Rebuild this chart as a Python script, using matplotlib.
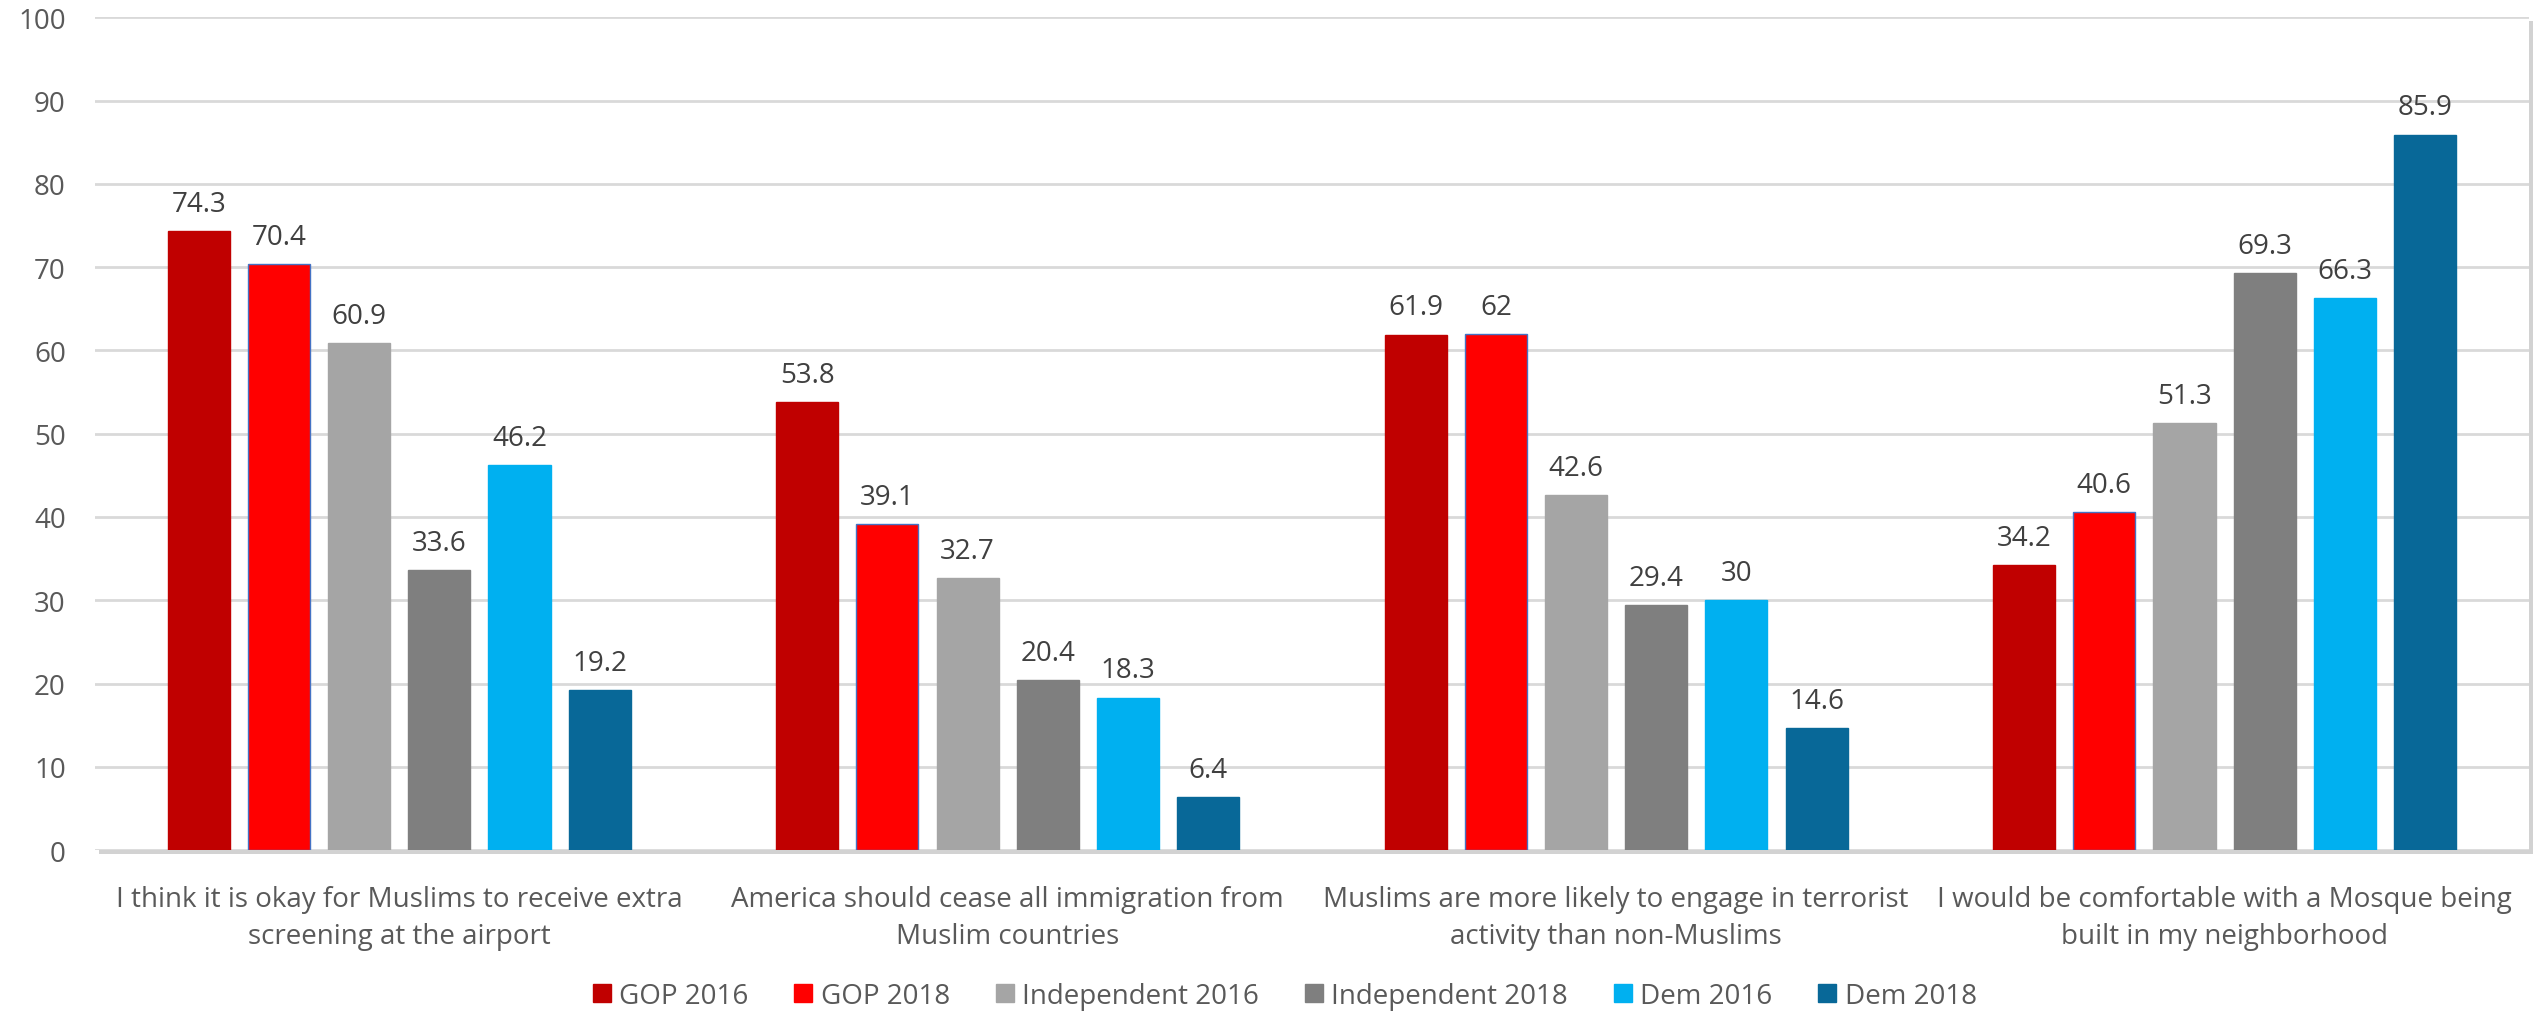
import numpy as np
import matplotlib
matplotlib.use("Agg")
import matplotlib.pyplot as plt
import matplotlib.patheffects as pe

plt.rcParams['font.family'] = ['Open Sans', 'DejaVu Sans']

categories = [
    "I think it is okay for Muslims to receive extra\nscreening at the airport",
    "America should cease all immigration from\nMuslim countries",
    "Muslims are more likely to engage in terrorist\nactivity than non-Muslims",
    "I would be comfortable with a Mosque being\nbuilt in my neighborhood",
]
series_names = ["GOP 2016", "GOP 2018", "Independent 2016", "Independent 2018", "Dem 2016", "Dem 2018"]
gop_2016 = [74.3, 53.8, 61.9, 34.2]
gop_2018 = [70.4, 39.1, 62, 40.6]
ind_2016 = [60.9, 32.7, 42.6, 51.3]
ind_2018 = [33.6, 20.4, 29.4, 69.3]
dem_2016 = [46.2, 18.3, 30, 66.3]
dem_2018 = [19.2, 6.4, 14.6, 85.9]
series_values = [gop_2016, gop_2018, ind_2016, ind_2018, dem_2016, dem_2018]
colors = ["#C00000", "#FF0000", "#A5A5A5", "#7F7F7F", "#00B0F0", "#086898"]

fig = plt.figure(figsize=(25.39, 10.12), dpi=100)
ax = fig.add_axes([0.0374, 0.159, 0.9586, 0.823])

x = np.arange(len(categories))
pitch = 0.1318
width = 0.102
for k, (name, vals, c) in enumerate(zip(series_names, series_values, colors)):
    pos = x + (k - 2.5) * pitch
    # the GOP 2018 bars carry a thin blue outline in the original
    edge = "#4472C4" if name == "GOP 2018" else c
    bars = ax.bar(pos, vals, width, color=c, edgecolor=edge, linewidth=1, label=name, zorder=3)
    for b, v in zip(bars, vals):
        ax.annotate(f"{v:g}", (b.get_x() + b.get_width() / 2, v),
                    xytext=(0, 9.5), textcoords="offset points",
                    ha="center", va="bottom", fontsize=20, color="#404040")

ax.set_xlim(-0.5, 3.5)
ax.set_ylim(0, 100)
ax.set_yticks(np.arange(0, 101, 10))
ax.yaxis.grid(True, color="#D9D9D9", linewidth=2, zorder=0)
ax.set_axisbelow(True)
ax.tick_params(axis="y", length=0, labelsize=20, labelcolor="#595959", pad=21)
ax.set_xticks(x)
ax.set_xticklabels(categories, fontsize=20, color="#595959", linespacing=1.45)
ax.tick_params(axis="x", length=0, pad=25)
for s in ax.spines.values():
    s.set_visible(False)

ax.patch.set_path_effects([pe.SimplePatchShadow(offset=(3, -3), alpha=0.35, shadow_rgbFace="#808080"),
                           pe.Normal()])

handles = [h for h in ax.get_legend_handles_labels()[0]]
leg = fig.legend(handles, series_names, loc="center", bbox_to_anchor=(0.506, 0.015), ncol=6,
                 frameon=False, fontsize=20, handlelength=0.65, handleheight=0.65,
                 handletextpad=0.3, columnspacing=1.65, borderpad=0, borderaxespad=0)
for t in leg.get_texts():
    t.set_color("#595959")
for h in leg.legend_handles:
    h.set_edgecolor(h.get_facecolor())

fig.savefig("out.png", dpi=100)
